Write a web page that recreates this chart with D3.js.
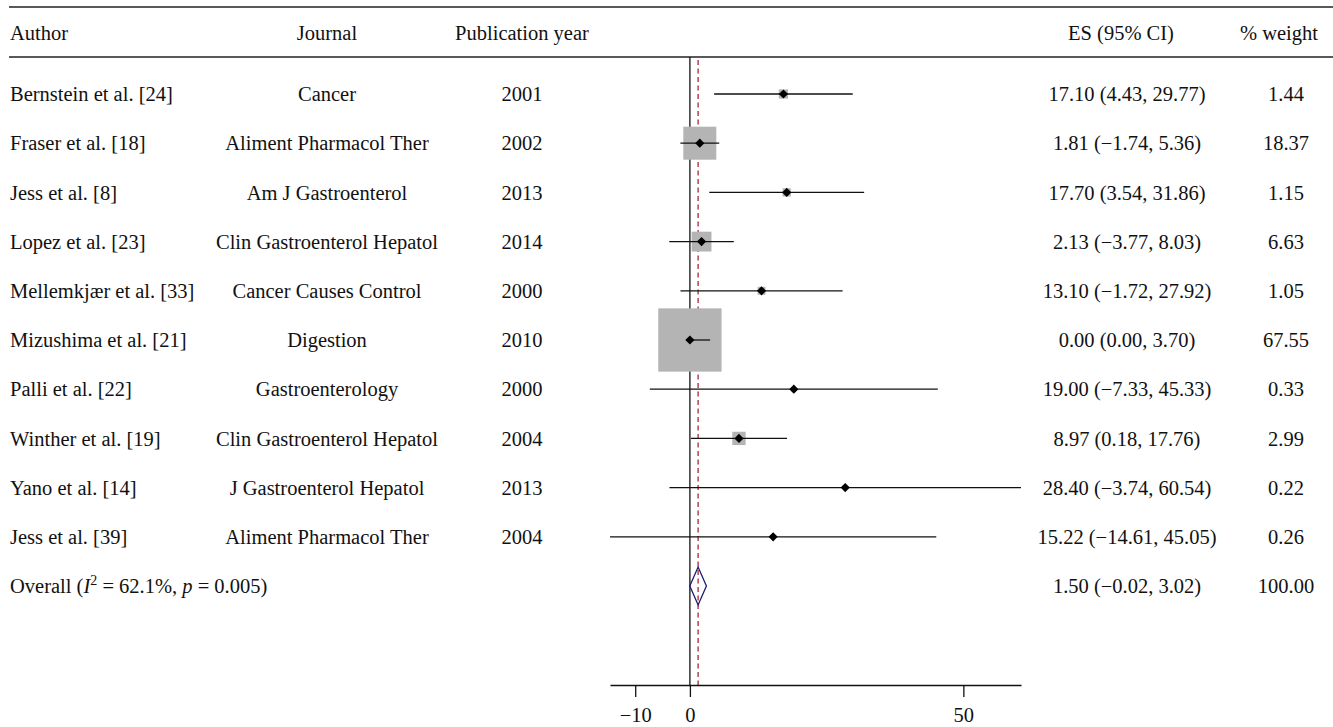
<!DOCTYPE html>
<html>
<head>
<meta charset="utf-8">
<script src="https://cdn.jsdelivr.net/npm/d3@7"></script>
<style>
  body { margin: 0; background: #fff; }
  text { font-family: "Liberation Serif", "DejaVu Serif", serif; fill: #111; }
</style>
</head>
<body>
<div id="main-div"></div>
<script>
// study rows
let authors = ["Bernstein et al. [24]", "Fraser et al. [18]", "Jess et al. [8]", "Lopez et al. [23]",
  "Mellemkjær et al. [33]", "Mizushima et al. [21]", "Palli et al. [22]", "Winther et al. [19]",
  "Yano et al. [14]", "Jess et al. [39]"]
let journals = ["Cancer", "Aliment Pharmacol Ther", "Am J Gastroenterol", "Clin Gastroenterol Hepatol",
  "Cancer Causes Control", "Digestion", "Gastroenterology", "Clin Gastroenterol Hepatol",
  "J Gastroenterol Hepatol", "Aliment Pharmacol Ther"]
let years = [2001, 2002, 2013, 2014, 2000, 2010, 2000, 2004, 2013, 2004]
let es = [17.10, 1.81, 17.70, 2.13, 13.10, 0.00, 19.00, 8.97, 28.40, 15.22]
let lo = [4.43, -1.74, 3.54, -3.77, -1.72, 0.00, -7.33, 0.18, -3.74, -14.61]
let hi = [29.77, 5.36, 31.86, 8.03, 27.92, 3.70, 45.33, 17.76, 60.54, 45.05]
let weights = [1.44, 18.37, 1.15, 6.63, 1.05, 67.55, 0.33, 2.99, 0.22, 0.26]

// pooled estimate
let overall = {es: 1.50, lo: -0.02, hi: 3.02, weight: 100.00}

let xTicks = [-10, 0, 50]

let width = 1333
let height = 727

let fmt = d3.format(".2f")
let esText = (e, l, h) => `${fmt(e)} (${fmt(l)}, ${fmt(h)})`.replace(/-/g, "\u2212")

let svg = d3.select("#main-div").append("svg")
  .attr("width", width)
  .attr("height", height)

let x = d3.scaleLinear()
  .domain([d3.min(lo), d3.max(hi)])
  .range([610, 1021])

let y = d3.scaleLinear()
  .domain([0, authors.length])
  .range([94, 586])

let boxSide = d3.scaleSqrt()
  .domain([0, d3.max(weights)])
  .range([0, 63.3])

let fontSize = 20.5
let cols = {author: 10, journal: 327, year: 522, es: 1127, weight: 1286}

// rules
svg.append("line").attr("x1", 9).attr("x2", width).attr("y1", 7).attr("y2", 7)
  .attr("stroke", "#222").attr("stroke-width", 1.5)
svg.append("line").attr("x1", 9).attr("x2", width).attr("y1", 57).attr("y2", 57)
  .attr("stroke", "#222").attr("stroke-width", 1.5)

// header
let header = svg.append("g").attr("font-size", fontSize)
header.append("text").attr("x", cols.author).attr("y", 33).attr("dy", "0.35em").text("Author")
header.append("text").attr("x", cols.journal).attr("y", 33).attr("dy", "0.35em").attr("text-anchor", "middle").text("Journal")
header.append("text").attr("x", cols.year).attr("y", 33).attr("dy", "0.35em").attr("text-anchor", "middle").text("Publication year")
header.append("text").attr("x", 1121).attr("y", 33).attr("dy", "0.35em").attr("text-anchor", "middle").text("ES (95% CI)")
header.append("text").attr("x", 1279).attr("y", 33).attr("dy", "0.35em").attr("text-anchor", "middle").text("% weight")

let axisY = 685

// null line and pooled line
svg.append("line")
  .attr("x1", x(0)).attr("x2", x(0)).attr("y1", 57).attr("y2", axisY)
  .attr("stroke", "#111").attr("stroke-width", 1.3)
svg.append("line")
  .attr("x1", x(overall.es)).attr("x2", x(overall.es)).attr("y1", 60).attr("y2", axisY)
  .attr("stroke", "#a8283a").attr("stroke-width", 1.3).attr("stroke-dasharray", "5,3.5")

let rows = authors.map((a, i) => ({author: a, journal: journals[i], year: years[i],
  es: es[i], lo: lo[i], hi: hi[i], weight: weights[i], i: i}))

// weight boxes
svg.append("g").selectAll("rect")
  .data(rows)
  .join("rect")
  .attr("x", d => x(d.es) - boxSide(d.weight) / 2)
  .attr("y", d => y(d.i) - boxSide(d.weight) / 2)
  .attr("width", d => boxSide(d.weight))
  .attr("height", d => boxSide(d.weight))
  .attr("fill", "#b4b4b4")

// CI lines
svg.append("g").selectAll("line")
  .data(rows)
  .join("line")
  .attr("x1", d => x(d.lo)).attr("x2", d => x(d.hi))
  .attr("y1", d => y(d.i)).attr("y2", d => y(d.i))
  .attr("stroke", "#111").attr("stroke-width", 1.3)

// point estimates
svg.append("g").selectAll("path")
  .data(rows)
  .join("path")
  .attr("d", d => {
    let cx = x(d.es), cy = y(d.i), r = 4.6
    return `M${cx - r},${cy}L${cx},${cy - r}L${cx + r},${cy}L${cx},${cy + r}Z`
  })
  .attr("fill", "#000")

// pooled diamond
let oy = y(authors.length)
svg.append("path")
  .attr("d", `M${x(overall.lo)},${oy}L${x(overall.es)},${oy - 19}L${x(overall.hi)},${oy}L${x(overall.es)},${oy + 19}Z`)
  .attr("fill", "none")
  .attr("stroke", "#1c1c72")
  .attr("stroke-width", 1.3)

// table text
let table = svg.append("g").attr("font-size", fontSize)
let rowText = table.selectAll("g").data(rows).join("g")
rowText.append("text").attr("x", cols.author).attr("y", d => y(d.i)).attr("dy", "0.35em").text(d => d.author)
rowText.append("text").attr("x", cols.journal).attr("y", d => y(d.i)).attr("dy", "0.35em").attr("text-anchor", "middle").text(d => d.journal)
rowText.append("text").attr("x", cols.year).attr("y", d => y(d.i)).attr("dy", "0.35em").attr("text-anchor", "middle").text(d => d.year)
rowText.append("text").attr("x", cols.es).attr("y", d => y(d.i)).attr("dy", "0.35em").attr("text-anchor", "middle")
  .text(d => esText(d.es, d.lo, d.hi))
rowText.append("text").attr("x", cols.weight).attr("y", d => y(d.i)).attr("dy", "0.35em").attr("text-anchor", "middle").text(d => fmt(d.weight))

// overall row
let ov = table.append("text").attr("x", cols.author).attr("y", oy).attr("dy", "0.35em")
ov.append("tspan").text("Overall (")
ov.append("tspan").attr("font-style", "italic").text("I")
ov.append("tspan").attr("font-size", 14).attr("dy", "-0.55em").text("2")
ov.append("tspan").attr("dy", "0.38em").text(" = 62.1%, ")
ov.append("tspan").attr("font-style", "italic").text("p")
ov.append("tspan").text(" = 0.005)")
table.append("text").attr("x", cols.es).attr("y", oy).attr("dy", "0.35em").attr("text-anchor", "middle")
  .text(esText(overall.es, overall.lo, overall.hi))
table.append("text").attr("x", cols.weight).attr("y", oy).attr("dy", "0.35em").attr("text-anchor", "middle").text(fmt(overall.weight))

// x axis
let xAxis = svg.append("g")
  .attr("transform", `translate(0,${axisY})`)
  .call(d3.axisBottom(x).tickValues(xTicks).tickSize(12).tickSizeOuter(0).tickPadding(10))
xAxis.select(".domain").attr("stroke", "#111").attr("stroke-width", 1.3)
xAxis.selectAll(".tick line").attr("stroke", "#111").attr("stroke-width", 1.3)
xAxis.selectAll(".tick text")
  .attr("font-family", "Liberation Serif, DejaVu Serif, serif")
  .attr("font-size", fontSize)
  .attr("fill", "#111")
</script>
</body>
</html>
